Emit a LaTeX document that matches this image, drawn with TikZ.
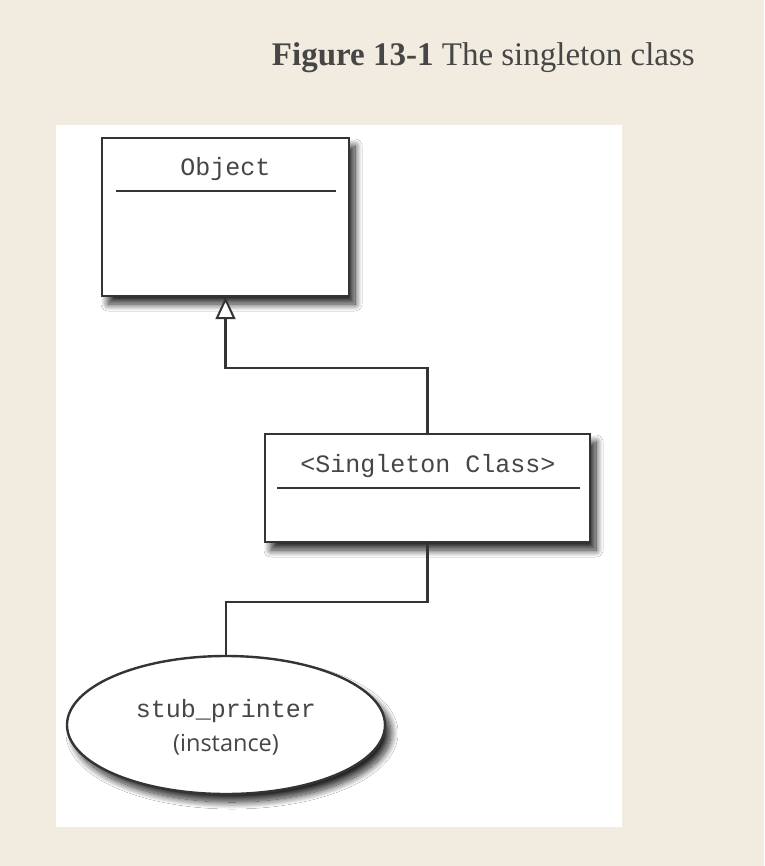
\documentclass[tikz,border=0pt]{standalone}
\usepackage{fontspec}
\setmainfont{Liberation Serif}
\newfontfamily\codefont{Liberation Mono}
\newfontfamily\notefont{Open Sans}
\usetikzlibrary{arrows.meta,shapes.geometric,shadows.blur}
\definecolor{paper}{RGB}{242,236,224}
\definecolor{ink}{RGB}{52,52,52}
\definecolor{txt}{RGB}{70,70,70}
\tikzset{
  umlbox/.style={draw=ink, line width=2.4pt, fill=white, rectangle,
    blur shadow={shadow xshift=6pt, shadow yshift=-8pt, shadow blur radius=7pt, shadow blur steps=16, shadow opacity=85}},
  umlnote/.style={draw=ink, line width=2.4pt, fill=white, ellipse,
    blur shadow={shadow xshift=6pt, shadow yshift=-8pt, shadow blur radius=7pt, shadow blur steps=16, shadow opacity=85}},
  label/.style={text=txt, font=\codefont\fontsize{25}{28}\selectfont}
}
\begin{document}
\begin{tikzpicture}[x=1pt, y=-1pt]
      \useasboundingbox[fill=paper] (0,0) rectangle (764,866);
      \fill[white] (56,125) rectangle (622,827);
      \node[anchor=base east, text=txt, inner sep=0, font=\fontsize{33}{38}\selectfont]
        (caption) at (695,66) {\textbf{Figure 13-1} The singleton class};
      \draw
        (225.5,217) node[umlbox, minimum width=247pt, minimum height=158pt] (object){}
        (427.5,488) node[umlbox, minimum width=325pt, minimum height=108pt] (singleton){}
        (226,725) node[umlnote, minimum width=318pt, minimum height=138pt, inner sep=0] (instance){};
      \node[label] (objname) at (225.5,169) {Object};
      \node[label] (singname) at (428,466) {<Singleton Class>};
      \node[label] (instname) at (226,711) {stub\_printer};
      \node[text=txt, font=\notefont\fontsize{23.5}{26}\selectfont] (instnote) at (226,745) {(instance)};
      \begin{scope}[ink, line width=2.4pt]
        \draw (116,191) -- (336,191);
        \draw (277,488) -- (580,488);
        \draw[-{Triangle[length=22pt, width=20pt, fill=white, line width=2pt]}]
          (singleton.north) -- ++(0,-65) -| (object.south);
        \draw (singleton.south) -- ++(0,59) -| (instance.north);
      \end{scope}
    \end{tikzpicture}
\end{document}
